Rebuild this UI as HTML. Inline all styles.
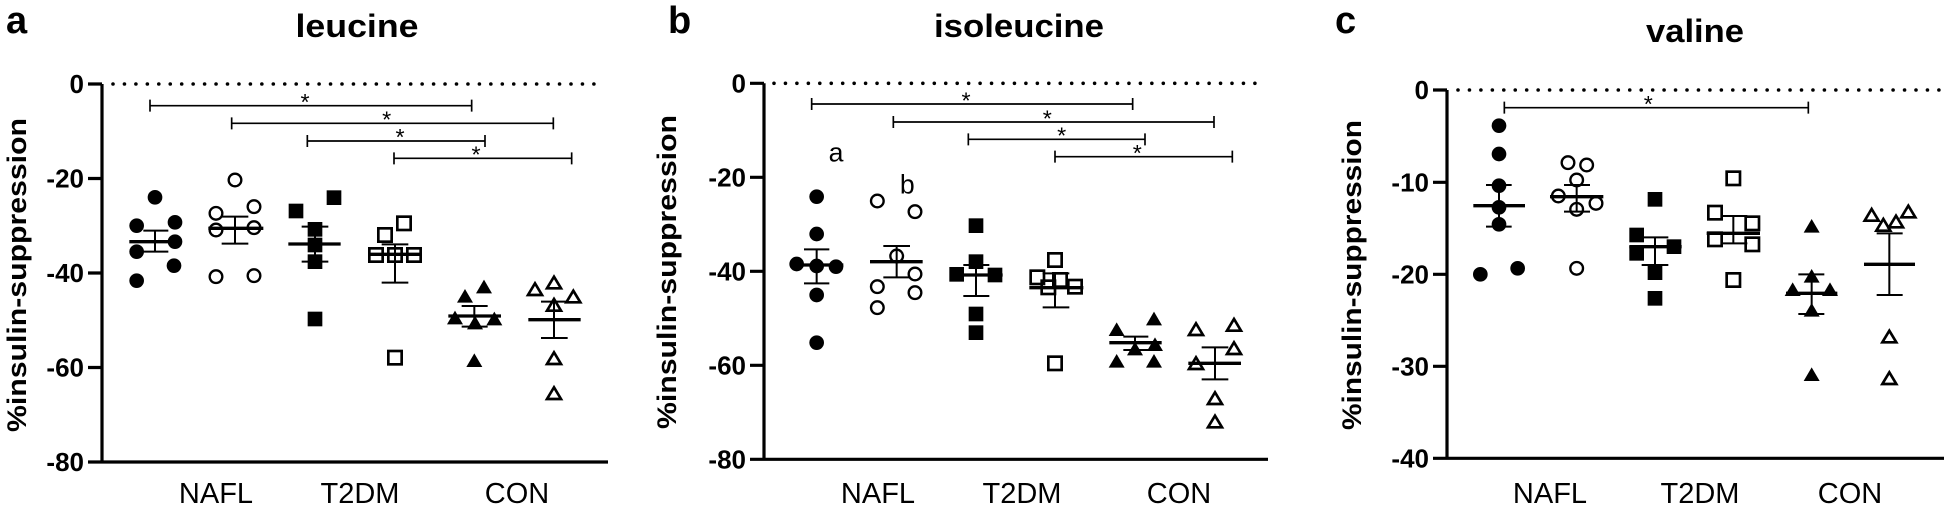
<!DOCTYPE html>
<html><head><meta charset="utf-8"><style>
html,body{margin:0;padding:0;background:#fff}
svg{display:block}
text{font-family:"Liberation Sans",Arial,sans-serif;fill:#000}
.tk{font-weight:bold;font-size:26px;text-anchor:end}
.yt{font-weight:bold;font-size:27px;text-anchor:middle}
.xl{font-size:29px;text-anchor:middle}
.tt{font-weight:bold;font-size:32px;text-anchor:middle}
.lt{font-weight:bold;font-size:38px}
.st{font-size:70px;text-anchor:middle}
.ax{stroke:#000;stroke-width:3.2;fill:none}
.dot{stroke:#000;stroke-width:3.6;stroke-linecap:round;stroke-dasharray:0 11.45;fill:none}
.eb{stroke:#000;stroke-width:6;fill:none}
.mn{stroke:#000;stroke-width:10;fill:none}
.sg{stroke:#000;stroke-width:5;fill:none}
</style></head><body>
<svg width="1944" height="506" viewBox="0 0 1944 506" xmlns="http://www.w3.org/2000/svg">
<defs>
<circle id="fc" r="22" fill="#000"/>
<circle id="oc" r="19" fill="none" stroke="#000" stroke-width="7"/>
<rect id="fs" x="-22" y="-22" width="44" height="44" fill="#000"/>
<rect id="os" x="-20" y="-20" width="40" height="40" fill="none" stroke="#000" stroke-width="8"/>
<polygon id="ft" points="0,-23 24,18 -24,18" fill="#000"/>
<polygon id="ot" points="0,-20 21,15 -21,15" fill="none" stroke="#000" stroke-width="8"/>
</defs>

<!-- ============ PANEL A ============ -->
<text class="lt" x="6" y="33">a</text>
<text class="tt" x="357" y="37" textLength="123" lengthAdjust="spacingAndGlyphs">leucine</text>
<text class="yt" transform="translate(26,275) rotate(-90)" textLength="314" lengthAdjust="spacingAndGlyphs">%insulin-suppression</text>
<path class="dot" d="M113,84 H601"/>
<path class="ax" d="M102,84 V462 M88,462 H608 M88,84 H102 M88,178.5 H102 M88,273 H102 M88,367.5 H102"/>
<text class="tk" x="84" y="93">0</text>
<text class="tk" x="84" y="187.5">-20</text>
<text class="tk" x="84" y="282">-40</text>
<text class="tk" x="84" y="376.5">-60</text>
<text class="tk" x="84" y="471">-80</text>
<text class="xl" x="216" y="503">NAFL</text>
<text class="xl" x="360" y="503">T2DM</text>
<text class="xl" x="517" y="503">CON</text>
<g transform="translate(100,60) scale(0.33333)">
<path class="sg" d="M150,137 H1115 M150,119 V155 M1115,119 V155 M395,190 H1360 M395,172 V208 M1360,172 V208 M622,243 H1155 M622,225 V261 M1155,225 V261 M882,295 H1415 M882,277 V313 M1415,277 V313"/>
<text class="st" x="615" y="150">*</text><text class="st" x="860" y="202">*</text><text class="st" x="900" y="255">*</text><text class="st" x="1128" y="307">*</text>
<use href="#fc" x="165" y="412"/><use href="#fc" x="110" y="497"/><use href="#fc" x="225" y="487"/><use href="#fc" x="225" y="545"/><use href="#fc" x="110" y="575"/><use href="#fc" x="222" y="617"/><use href="#fc" x="110" y="662"/>
<use href="#oc" x="405" y="360"/><use href="#oc" x="348" y="460"/><use href="#oc" x="462" y="440"/><use href="#oc" x="348" y="510"/><use href="#oc" x="462" y="503"/><use href="#oc" x="348" y="650"/><use href="#oc" x="462" y="647"/>
<use href="#fs" x="588" y="453"/><use href="#fs" x="702" y="413"/><use href="#fs" x="645" y="508"/><use href="#fs" x="645" y="555"/><use href="#fs" x="645" y="605"/><use href="#fs" x="645" y="777"/>
<use href="#os" x="912" y="490"/><use href="#os" x="855" y="525"/><use href="#os" x="828" y="585"/><use href="#os" x="885" y="585"/><use href="#os" x="942" y="585"/><use href="#os" x="885" y="893"/>
<use href="#ft" x="1095" y="710"/><use href="#ft" x="1152" y="682"/><use href="#ft" x="1065" y="775"/><use href="#ft" x="1125" y="790"/><use href="#ft" x="1183" y="778"/><use href="#ft" x="1123" y="903"/>
<use href="#ot" x="1305" y="690"/><use href="#ot" x="1362" y="670"/><use href="#ot" x="1420" y="712"/><use href="#ot" x="1362" y="737"/><use href="#ot" x="1362" y="897"/><use href="#ot" x="1362" y="1002"/>
<path class="mn" d="M88,545 H205 M325,505 H490 M565,552 H722 M805,583 H965 M1045,768 H1203 M1285,779 H1442"/>
<path class="eb" d="M165,512 V575 M130,512 H205 M130,575 H205 M405,470 V551 M365,470 H445 M365,551 H445 M645,500 V605 M605,500 H685 M605,605 H685 M885,553 V668 M845,553 H925 M845,668 H925 M1123,738 V800 M1085,738 H1163 M1085,800 H1163 M1362,725 V834 M1323,725 H1403 M1323,834 H1403"/>
</g>

<!-- ============ PANEL B ============ -->
<text class="lt" x="668" y="33">b</text>
<text class="tt" x="1019" y="37" textLength="170" lengthAdjust="spacingAndGlyphs">isoleucine</text>
<text class="yt" transform="translate(676,272) rotate(-90)" textLength="314" lengthAdjust="spacingAndGlyphs">%insulin-suppression</text>
<path class="dot" d="M774,83.3 H1261"/>
<path class="ax" d="M764,83.3 V459.3 M750,459.3 H1268 M750,83.3 H764 M750,177.3 H764 M750,271.3 H764 M750,365.3 H764"/>
<text class="tk" x="746" y="92.3">0</text>
<text class="tk" x="746" y="186.3">-20</text>
<text class="tk" x="746" y="280.3">-40</text>
<text class="tk" x="746" y="374.3">-60</text>
<text class="tk" x="746" y="468.3">-80</text>
<text class="xl" x="878" y="503">NAFL</text>
<text class="xl" x="1022" y="503">T2DM</text>
<text class="xl" x="1179" y="503">CON</text>
<g transform="translate(630,60) scale(0.33333)">
<path class="sg" d="M545,132 H1508 M545,114 V150 M1508,114 V150 M790,186 H1752 M790,168 V204 M1752,168 V204 M1015,238 H1545 M1015,220 V256 M1545,220 V256 M1275,290 H1807 M1275,272 V308 M1807,272 V308"/>
<text class="st" x="1008" y="145">*</text><text class="st" x="1252" y="199">*</text><text class="st" x="1295" y="251">*</text><text class="st" x="1522" y="303">*</text>
<text x="618" y="305" style="font-size:80px;text-anchor:middle">a</text>
<text x="832" y="400" style="font-size:80px;text-anchor:middle">b</text>
<use href="#fc" x="560" y="410"/><use href="#fc" x="560" y="522"/><use href="#fc" x="500" y="612"/><use href="#fc" x="560" y="618"/><use href="#fc" x="618" y="620"/><use href="#fc" x="560" y="705"/><use href="#fc" x="560" y="848"/>
<use href="#oc" x="742" y="423"/><use href="#oc" x="855" y="455"/><use href="#oc" x="800" y="588"/><use href="#oc" x="855" y="642"/><use href="#oc" x="742" y="680"/><use href="#oc" x="855" y="698"/><use href="#oc" x="742" y="743"/>
<use href="#fs" x="1038" y="497"/><use href="#fs" x="1038" y="605"/><use href="#fs" x="980" y="643"/><use href="#fs" x="1095" y="645"/><use href="#fs" x="1038" y="762"/><use href="#fs" x="1038" y="818"/>
<use href="#os" x="1275" y="600"/><use href="#os" x="1222" y="652"/><use href="#os" x="1290" y="660"/><use href="#os" x="1335" y="680"/><use href="#os" x="1255" y="682"/><use href="#os" x="1275" y="910"/>
<use href="#ft" x="1460" y="810"/><use href="#ft" x="1572" y="778"/><use href="#ft" x="1515" y="868"/><use href="#ft" x="1575" y="855"/><use href="#ft" x="1460" y="905"/><use href="#ft" x="1572" y="905"/>
<use href="#ot" x="1698" y="810"/><use href="#ot" x="1812" y="797"/><use href="#ot" x="1812" y="867"/><use href="#ot" x="1698" y="912"/><use href="#ot" x="1755" y="1017"/><use href="#ot" x="1755" y="1087"/>
<path class="mn" d="M483,615 H640 M720,605 H878 M960,645 H1118 M1198,683 H1360 M1438,848 H1595 M1675,910 H1833"/>
<path class="eb" d="M560,568 V670 M522,568 H598 M522,670 H598 M800,558 V652 M760,558 H840 M760,652 H840 M1038,615 V708 M1000,615 H1078 M1000,708 H1078 M1275,640 V742 M1238,640 H1318 M1238,742 H1318 M1515,830 V870 M1480,830 H1555 M1480,870 H1555 M1755,862 V958 M1715,862 H1795 M1715,958 H1795"/>
</g>

<!-- ============ PANEL C ============ -->
<text class="lt" x="1335" y="33">c</text>
<text class="tt" x="1695" y="42" textLength="98" lengthAdjust="spacingAndGlyphs">valine</text>
<text class="yt" transform="translate(1361,275) rotate(-90)" textLength="310" lengthAdjust="spacingAndGlyphs">%insulin-suppression</text>
<path class="dot" d="M1458,90 H1944"/>
<path class="ax" d="M1447,90 V458.3 M1433,458.3 H1944 M1433,90 H1447 M1433,182.3 H1447 M1433,274.3 H1447 M1433,366.3 H1447"/>
<text class="tk" x="1429" y="99">0</text>
<text class="tk" x="1429" y="191.3">-10</text>
<text class="tk" x="1429" y="283.3">-20</text>
<text class="tk" x="1429" y="375.3">-30</text>
<text class="tk" x="1429" y="467.3">-40</text>
<text class="xl" x="1550" y="503">NAFL</text>
<text class="xl" x="1700" y="503">T2DM</text>
<text class="xl" x="1850" y="503">CON</text>
<g transform="translate(1440,60) scale(0.33333)">
<path class="sg" d="M193,143 H1105 M193,125 V161 M1105,125 V161"/>
<text class="st" x="625" y="156">*</text>
<use href="#fc" x="177" y="197"/><use href="#fc" x="177" y="282"/><use href="#fc" x="177" y="377"/><use href="#fc" x="177" y="442"/><use href="#fc" x="177" y="493"/><use href="#fc" x="121" y="643"/><use href="#fc" x="233" y="625"/>
<use href="#oc" x="384" y="308"/><use href="#oc" x="440" y="315"/><use href="#oc" x="410" y="360"/><use href="#oc" x="355" y="408"/><use href="#oc" x="468" y="430"/><use href="#oc" x="410" y="448"/><use href="#oc" x="410" y="625"/>
<use href="#fs" x="645" y="418"/><use href="#fs" x="590" y="525"/><use href="#fs" x="590" y="580"/><use href="#fs" x="702" y="560"/><use href="#fs" x="645" y="638"/><use href="#fs" x="645" y="715"/>
<use href="#os" x="880" y="355"/><use href="#os" x="825" y="458"/><use href="#os" x="937" y="490"/><use href="#os" x="825" y="538"/><use href="#os" x="937" y="553"/><use href="#os" x="880" y="660"/>
<use href="#ft" x="1115" y="500"/><use href="#ft" x="1115" y="650"/><use href="#ft" x="1058" y="690"/><use href="#ft" x="1170" y="690"/><use href="#ft" x="1115" y="752"/><use href="#ft" x="1115" y="945"/>
<use href="#ot" x="1295" y="467"/><use href="#ot" x="1405" y="457"/><use href="#ot" x="1330" y="497"/><use href="#ot" x="1368" y="487"/><use href="#ot" x="1348" y="832"/><use href="#ot" x="1348" y="957"/>
<path class="mn" d="M100,437 H255 M330,410 H490 M568,560 H725 M800,520 H960 M1038,700 H1192 M1272,613 H1425"/>
<path class="eb" d="M177,375 V500 M138,375 H215 M138,500 H215 M410,375 V455 M372,375 H450 M372,455 H450 M645,532 V615 M605,532 H685 M605,615 H685 M880,468 V550 M842,468 H922 M842,550 H922 M1115,643 V762 M1075,643 H1153 M1075,762 H1153 M1348,520 V705 M1310,520 H1388 M1310,705 H1388"/>
</g>
</svg>
</body></html>
